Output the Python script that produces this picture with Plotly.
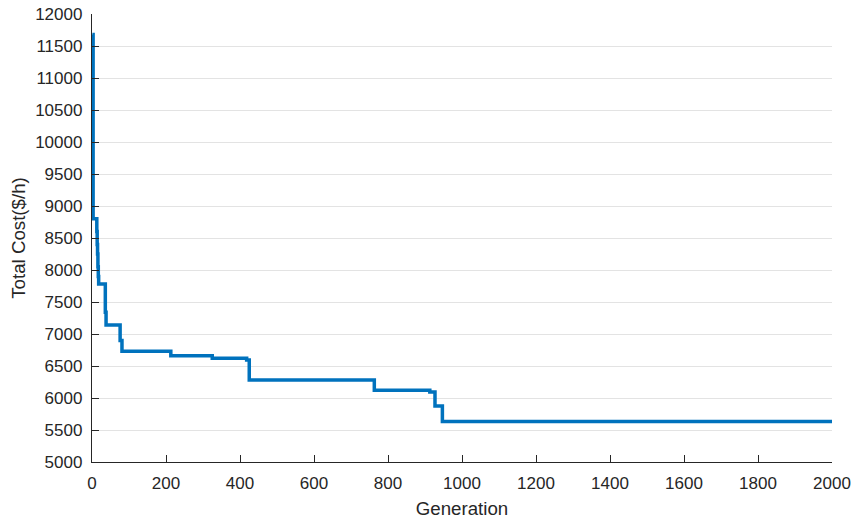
import plotly.graph_objects as go

# Step-change points of the best total cost per generation
generation = [1, 3, 13, 14, 15, 16, 17, 18, 36, 38, 76, 81, 213, 325, 418, 425, 763, 913, 927, 947, 2000]
total_cost = [11680, 8800, 8600, 8400, 8250, 8050, 7900, 7780, 7340, 7140, 6900, 6730, 6660, 6620, 6595, 6280, 6120, 6095, 5875, 5632, 5632]

x_ticks = [0, 200, 400, 600, 800, 1000, 1200, 1400, 1600, 1800, 2000]
y_ticks = [5000, 5500, 6000, 6500, 7000, 7500, 8000, 8500, 9000, 9500, 10000, 10500, 11000, 11500, 12000]

fig = go.Figure()
fig.add_trace(go.Scatter(
    x=generation, y=total_cost, mode="lines",
    line=dict(color="#0072BD", width=3.5, shape="hv"),
    showlegend=False,
))

axis_color = "#262626"
fig.update_layout(
    width=853, height=521,
    margin=dict(l=92, r=21, t=14, b=59),
    paper_bgcolor="white", plot_bgcolor="white",
    font=dict(family="Liberation Sans, Arial, sans-serif", size=17, color=axis_color),
)
fig.update_xaxes(
    range=[0, 2000], tickvals=x_ticks, ticktext=[str(v) for v in x_ticks],
    automargin=False, ticklabeloverflow="allow",
    showgrid=False, zeroline=False,
    showline=True, linecolor=axis_color, linewidth=1.3,
    ticks="inside", ticklen=7, tickcolor=axis_color, tickwidth=1.2,
    ticklabelstandoff=5,
    title=dict(text="Generation", font=dict(size=18.7), standoff=10),
)
fig.update_yaxes(
    range=[5000, 12000], tickvals=y_ticks, ticktext=[str(v) for v in y_ticks],
    automargin=False, ticklabeloverflow="allow",
    showgrid=True, gridcolor="#e3e3e3", gridwidth=1, zeroline=False,
    showline=True, linecolor=axis_color, linewidth=1.3,
    ticks="inside", ticklen=7, tickcolor=axis_color, tickwidth=1.2,
    ticklabelstandoff=5,
    title=dict(text="Total Cost($/h)", font=dict(size=18.7), standoff=4),
)

fig.write_html(
    "out.html",
    config={"displayModeBar": False},
    post_script="document.body.style.margin='0';document.body.style.overflow='hidden';",
)
